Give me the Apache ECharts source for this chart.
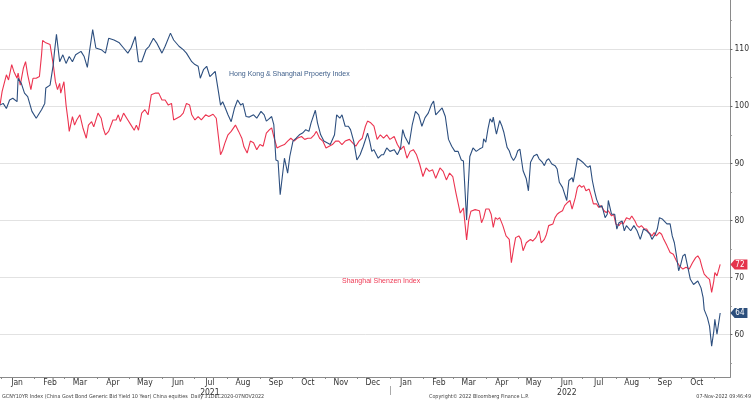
<!DOCTYPE html>
<html>
<head>
<meta charset="utf-8">
<script src="https://cdn.jsdelivr.net/npm/echarts@6/dist/echarts.min.js"></script>
<style>
html,body{margin:0;padding:0;background:#fff;}
#chart{width:752px;height:402px;}
</style>
</head>
<body>
<div id="chart"></div>
<script>
// Days counted from 31 Dec 2020 (start of the series)
var startDate = '2020-12-31';
var endDate = '2022-11-07';
var monthNames = ['Jan','Feb','Mar','Apr','May','Jun','Jul','Aug','Sep','Oct','Nov','Dec'];
var yTickLabels = [60, 70, 80, 90, 100, 110];
var yMinorTicks = [55, 65, 75, 85, 95, 105, 115];

var hkName = 'Hong Kong & Shanghai Prpoerty Index';
var hkDays = [0,3,6,9,12,16,17,20,23,26,30,34,39,42,43,47,50,51,53,56,59,62,65,68,71,76,79,82,84,87,90,95,99,102,107,112,116,120,123,127,130,133,137,140,144,147,152,155,160,163,168,172,175,180,183,186,188,191,194,197,202,205,207,209,211,214,217,220,223,226,228,231,
234,238,241,245,248,250,252,255,257,259,261,263,265,267,270,272,275,278,281,284,287,290,292,296,298,301,304,307,310,314,316,319,321,324,327,329,332,335,338,341,345,347,349,351,355,358,360,363,366,370,373,376,378,380,384,387,390,393,396,399,402,405,407,409,412,415,418,421,424,427,430,433,435,438,439,441,444,447,
450,453,454,456,458,460,462,463,465,466,469,471,473,476,478,480,482,484,486,488,491,494,496,498,501,504,506,509,511,513,515,518,521,523,525,528,529,532,534,537,538,540,542,545,547,550,552,554,556,558,560,563,565,568,570,571,574,577,579,581,584,586,588,592,595,598,601,604,607,610,612,615,617,619,622,626,629,631,633,635,637,639,641,643,646,648,651,655,658,660,661,664,666,668,670,671,673,676];
var hkValues = [100.2,100.5,99.6,101.1,101.4,100.8,104.9,104,102.3,101.7,99.1,97.9,99.4,100.5,103.2,103.7,107.3,109.3,112.6,107.8,109,107.5,108.7,107.8,109,109.6,108.7,106.8,109.6,113.4,110.2,109.9,109.3,111.9,111.6,111.1,110.2,109.3,110.2,112.2,107.8,107.8,109.9,110.5,111.9,111.1,109.3,110.5,112.8,111.6,110.5,109.9,109.3,107.8,107.3,107,104.9,106.4,107,105.2,106.1,102.6,100.2,100.8,99.9,98.5,97.3,99.6,101.1,100.2,100.5,98.2,
98.1,98.5,97.9,99.1,98.5,97.4,97.7,98.2,96.8,90.6,90.4,84.5,87.7,90.9,88.3,91.2,93.9,94.4,95,95.3,95.9,95.6,97.1,99.3,97.1,95,93.9,93.6,93.3,95,98.5,97.9,98.5,96.5,96.5,95.9,93.9,90.6,91.5,93,95.3,93.9,92.1,92.4,90.9,91.5,91.5,92.7,92.1,92.4,91.5,92.7,95.9,94.7,93.3,96.8,99.1,98.5,96.5,98,98.8,100.3,100.9,98.5,99.1,99.7,98.2,94.2,93,92.1,92.1,90.6,90.4,80.1,84.2,91.2,92.7,92.1,
92.5,92.8,94.3,93.7,96,97.8,97.2,98.1,96,95.1,97.5,96.6,95.4,92.8,92.2,91.1,90.5,91.1,92.2,92.5,88.7,87.3,85.2,90.2,91.3,91.6,90.8,90.2,89.6,90.5,90.8,89.9,89.6,89,86.7,85.8,86.1,83.5,87,87.5,86.7,88.7,90.9,90.5,90.2,89.6,89.3,89.6,87,85.2,83.7,82.3,82.6,80.5,81.1,83.5,81.1,81.1,78.5,79.6,79.9,78.2,79.1,78.2,79.1,78.2,76.7,78.5,78.2,77.6,76.7,77.6,78.5,80.5,80.2,79.4,79.4,77.3,76.1,73.8,71.2,72.3,73.8,74.1,71.5,69.7,68.8,69.4,68.2,66.5,64.4,63,61.5,58,60.6,62.7,60.1,63.8];

var shName = 'Shanghai Shenzen Index';
var shDays = [0,2,6,8,11,13,16,17,19,22,24,26,29,31,34,37,39,40,43,47,48,50,52,54,56,57,60,62,64,65,68,70,72,75,78,81,83,86,88,92,95,97,99,102,106,109,111,113,116,120,123,126,128,130,133,136,139,142,146,149,152,155,158,161,163,166,169,172,175,178,180,183,186,189,193,196,200,203,207,209,211,214,217,221,224,227,229,232,
235,238,241,244,247,250,253,255,257,260,263,267,270,273,276,279,283,286,289,292,295,297,300,303,306,309,312,315,318,321,324,328,331,334,337,340,343,345,348,351,354,357,360,363,366,370,373,376,379,382,385,388,391,394,397,400,403,406,409,413,416,419,422,425,428,432,435,438,440,442,446,
447,450,452,454,456,459,461,463,465,467,469,472,475,478,480,482,484,487,489,491,494,496,498,500,503,506,508,511,513,515,519,521,523,525,528,530,533,535,537,540,542,544,546,548,550,553,555,557,560,562,564,567,569,571,574,576,578,581,583,585,588,591,593,596,598,600,602,605,607,609,612,614,616,619,621,623,626,629,632,635,638,641,644,647,650,653,655,657,659,661,664,666,668,670,671,673,676];
var shValues = [100.2,102.6,105.5,104.6,107.3,106.1,104.9,105.8,103.7,106.7,107.8,105.5,102.9,104.9,104.9,105.2,109,111.5,111.1,110.8,110.8,107.3,104.3,102.9,104,102.3,104.3,100.2,97.3,95.6,98.2,96.7,97.6,98.5,96.1,94.4,96.7,97.3,96.4,98.8,97.9,96.1,95,95.6,97.6,97.6,98.5,97.3,98.8,97.6,96.7,95.8,96.7,95.8,98.8,99.4,98.5,102,102.3,102.3,101.1,101.1,100.2,100.5,97.6,97.9,98.2,98.8,100.5,100.2,98.5,97.6,98.2,97.6,98.5,98.2,98.6,97.9,91.5,92.3,93.5,95,95.6,96.7,95.6,94.4,92.9,91.8,
93.9,93.6,92.4,93.3,93,95.3,95.9,96.2,94.7,92.7,93,93.3,93.9,94.4,93.9,94.4,94.7,94.2,94.4,94.4,95,95.6,94.4,93.9,92.7,93,93.3,93.9,93.9,93.3,93.9,94.2,93.6,93,93.9,94.4,96.5,97.4,97.1,96.5,94.2,95,94.4,95,94.2,94.7,93.3,92.4,93,90.9,92.1,92.4,91.5,89.8,87.7,89.2,88.6,88.9,87.4,89.2,88.6,87.1,88.3,87.7,84.8,81.3,82.2,76.6,80.1,81.6,81.9,
82,81.7,79.6,80.5,82,82,81.1,78.8,80.5,80.2,80.5,79.1,77.3,76.7,72.6,75,77,77.3,76.7,74.7,76.1,76.4,76.7,76.4,77,78.2,76.1,76.7,77.6,79.1,79.4,80.5,81.1,81.4,81.7,82.6,83.2,83.5,82,84,85.8,86.2,85.8,86.1,85.2,85.5,84.3,82.9,82.9,82.3,82.6,81.7,81.4,81.7,80.8,81.1,79.4,79.1,79.6,79.4,80.5,80.2,80.8,79.9,79.1,78.8,79.1,78.5,78.5,77.9,77.3,77.9,77.3,77.9,77.6,76.7,75.6,74.4,74.1,72.9,72,71.5,71.8,71.5,72.6,73.5,73.8,73.2,71.8,70.6,70,69.7,67.4,69.4,70.9,70.3,72.3];

var DAY = 86400000;
var base = Date.parse(startDate + 'T00:00:00Z');
var endTs = Date.parse(endDate + 'T00:00:00Z');
var xMax = endTs + 9.6 * DAY;

function toPairs(days, vals) {
  var out = [];
  for (var i = 0; i < days.length; i++) out.push([base + days[i] * DAY, vals[i]]);
  return out;
}

// month boundaries and mid-month label positions
var monthTicks = [], monthLabels = [];
for (var y = 2021; y <= 2022; y++) {
  for (var m = 0; m < 12; m++) {
    var t0 = Date.UTC(y, m, 1);
    if (t0 > xMax) break;
    monthTicks.push(t0);
    var mid = Date.UTC(y, m, 16);
    if (mid < endTs) monthLabels.push(mid);
  }
}
var yearLabelAt = {};
yearLabelAt[Date.UTC(2021, 6, 16)] = '2021';
yearLabelAt[Date.UTC(2022, 5, 16)] = '2022';
var yearBoundary = [Date.UTC(2022, 0, 1)];

var FONT = "'Liberation Sans Narrow','DejaVu Sans Condensed','Liberation Sans',sans-serif";
var BLUE = '#2d4f7f';
var RED = '#ec3450';
var tagPath = 'path://M0,5L5,0L20,0L20,10L5,10Z';

var hkData = toPairs(hkDays, hkValues);
var shData = toPairs(shDays, shValues);
var hkLast = hkValues[hkValues.length - 1];
var shLast = shValues[shValues.length - 1];

var chart = echarts.init(document.getElementById('chart'), null, {renderer: 'canvas'});
chart.setOption({
  animation: false,
  backgroundColor: '#ffffff',
  grid: {left: 0, right: 16, top: 0, bottom: 25, containLabel: false},
  xAxis: [{
    type: 'value', min: base, max: xMax,
    axisLine: {show: true, lineStyle: {color: '#8a8a8a', width: 1}},
    axisTick: {show: true, customValues: monthTicks, length: 2, lineStyle: {color: '#8a8a8a'}},
    axisLabel: {
      show: true, customValues: monthLabels, margin: 1,
      fontFamily: FONT, fontSize: 8.5, color: '#333', lineHeight: 10,
      formatter: function (v) {
        var d = new Date(v);
        var s = monthNames[d.getUTCMonth()];
        if (yearLabelAt[v]) s += '\n' + yearLabelAt[v];
        return s;
      }
    },
    splitLine: {show: false}
  }, {
    type: 'value', min: base, max: xMax, position: 'bottom', offset: 9,
    axisLine: {show: false},
    axisTick: {show: true, customValues: yearBoundary, length: 9, lineStyle: {color: '#aaaaaa'}},
    axisLabel: {show: false},
    splitLine: {show: false}
  }],
  yAxis: [{
    type: 'value', position: 'right', min: 52.6, max: 118.6,
    axisLine: {show: true, lineStyle: {color: '#8a8a8a', width: 1}},
    axisTick: {show: true, customValues: yTickLabels, length: 2, inside: false, lineStyle: {color: '#666'}},
    axisLabel: {show: true, customValues: yTickLabels, margin: 4, fontFamily: FONT, fontSize: 8.5, color: '#333'},
    splitLine: {show: true, lineStyle: {color: '#e2e2e2', width: 1}}
  }, {
    type: 'value', position: 'right', min: 52.6, max: 118.6,
    axisLine: {show: false},
    axisTick: {show: true, customValues: yMinorTicks, length: 1.5, lineStyle: {color: '#999'}},
    axisLabel: {show: false},
    splitLine: {show: false}
  }],
  series: [{
    name: shName, type: 'line', data: shData, showSymbol: false, symbol: 'none',
    lineStyle: {color: RED, width: 1.1}, itemStyle: {color: RED}, z: 3,
    markPoint: {
      symbol: tagPath, symbolSize: [17, 10], symbolOffset: [8.5, 0], silent: true,
      itemStyle: {color: '#e4344c'},
      label: {show: true, position: 'inside', color: '#fff', fontFamily: FONT, fontSize: 8, offset: [1, 0],
        formatter: function (p) { return String(Math.round(p.value)); }},
      data: [{coord: [xMax, shLast], value: shLast}]
    }
  }, {
    name: hkName, type: 'line', data: hkData, showSymbol: false, symbol: 'none',
    lineStyle: {color: BLUE, width: 1.1}, itemStyle: {color: BLUE}, z: 4,
    markPoint: {
      symbol: tagPath, symbolSize: [17, 10], symbolOffset: [8.5, 0], silent: true,
      itemStyle: {color: '#2c4f7c'},
      label: {show: true, position: 'inside', color: '#fff', fontFamily: FONT, fontSize: 8, offset: [1, 0],
        formatter: function (p) { return String(Math.round(p.value)); }},
      data: [{coord: [xMax, hkLast], value: hkLast}]
    }
  }],
  graphic: [
    {type: 'text', left: 229, top: 71, style: {text: hkName, fill: '#3f5f8a', font: "7px 'Liberation Sans',sans-serif"}},
    {type: 'text', left: 342, top: 278, style: {text: shName, fill: '#ee3a55', font: "7px 'Liberation Sans',sans-serif"}},
    {type: 'text', left: 2, top: 394.5, style: {text: 'GCNY10YR Index (China Govt Bond Generic Bid Yield 10 Year) China equities  Daily 31DEC2020-07NOV2022', fill: '#444', font: "5.4px " + FONT}},
    {type: 'text', left: 429, top: 394.5, style: {text: 'Copyright\u00A9 2022 Bloomberg Finance L.P.', fill: '#444', font: "5.4px " + FONT}},
    {type: 'text', right: 1, top: 394.5, style: {text: '07-Nov-2022 09:46:49', fill: '#444', font: "5.4px " + FONT}}
  ]
});
</script>
</body>
</html>
